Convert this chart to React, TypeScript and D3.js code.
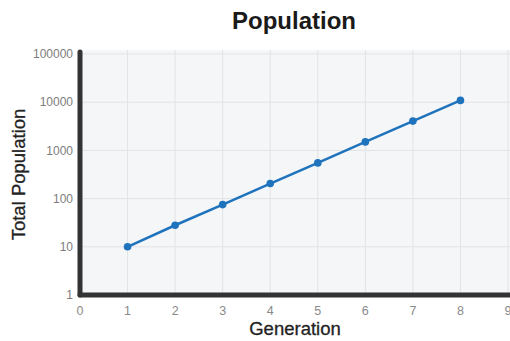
import React from "react";
import * as d3 from "d3";

const generations = [1, 2, 3, 4, 5, 6, 7, 8];
const population = [10, 28, 75, 205, 550, 1500, 4050, 10900];
const xTicks = [0, 1, 2, 3, 4, 5, 6, 7, 8, 9];
const yTicks = [1, 10, 100, 1000, 10000, 100000];
const title = "Population";
const xTitle = "Generation";
const yTitle = "Total Population";

export default function App() {
  const W = 510, H = 341;
  const x = d3.scaleLinear().domain([0, 9]).range([80, 508]);
  const y = d3.scaleLog().domain([1, 100000]).range([295, 54]);
  const line = d3
    .line<number>()
    .x((_, i) => x(generations[i]))
    .y((d) => y(d));
  const font = "'Liberation Sans', Arial, Helvetica, sans-serif";
  return (
    <svg
      width={W}
      height={H}
      style={{ position: "absolute", left: 0, top: 0, fontFamily: font }}
    >
      <rect x={0} y={0} width={W} height={H} fill="#ffffff" />
      <rect x={x(0)} y={50} width={W - x(0)} height={y(1) - 50} fill="#f4f6f8" />
      {xTicks.map((t) => (
        <line key={"gx" + t} x1={x(t)} x2={x(t)} y1={50} y2={y(1)} stroke="#e2e3e5" strokeWidth={1} />
      ))}
      {yTicks.map((t) => (
        <line key={"gy" + t} x1={x(0)} x2={W} y1={y(t)} y2={y(t)} stroke="#e2e3e5" strokeWidth={1} />
      ))}
      <path d={line(population) || ""} fill="none" stroke="#1f73bd" strokeWidth={2.5} />
      {population.map((v, i) => (
        <circle key={"p" + i} cx={x(generations[i])} cy={y(v)} r={3.8} fill="#1f73bd" />
      ))}
      <line x1={x(0)} x2={x(0)} y1={52} y2={y(1)} stroke="#333333" strokeWidth={5} strokeLinecap="round" />
      <line x1={x(0)} x2={W} y1={y(1)} y2={y(1)} stroke="#333333" strokeWidth={5} strokeLinecap="round" />
      {yTicks.map((t) => (
        <text key={"ty" + t} x={73} y={y(t)} dy="0.35em" textAnchor="end" fontSize={12} fill="#7d7d7d">
          {String(t)}
        </text>
      ))}
      {xTicks.map((t) => (
        <text key={"tx" + t} x={x(t)} y={315} textAnchor="middle" fontSize={12.5} fill="#8a8a8a">
          {String(t)}
        </text>
      ))}
      <text x={294} y={29} textAnchor="middle" fontSize={24} fontWeight="bold" fill="#1a1a1a">
        {title}
      </text>
      <text x={295} y={335} textAnchor="middle" fontSize={18.5} fill="#222222" stroke="#222222" strokeWidth={0.3}>
        {xTitle}
      </text>
      <text
        transform={`translate(25,${y(1) - (y(1) - 54) / 2}) rotate(-90)`}
        textAnchor="middle"
        fontSize={18.5}
        fill="#222222"
        stroke="#222222"
        strokeWidth={0.3}
      >
        {yTitle}
      </text>
    </svg>
  );
}
